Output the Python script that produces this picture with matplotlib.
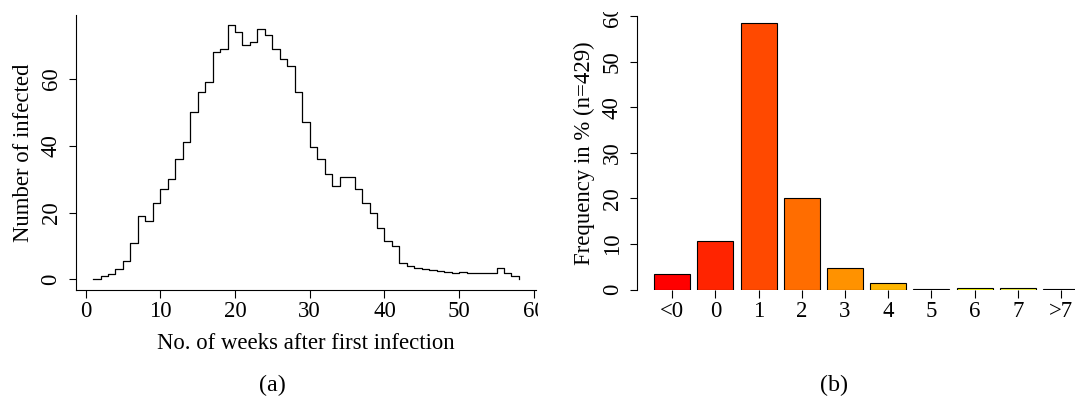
import matplotlib
matplotlib.use("Agg")
import matplotlib.pyplot as plt
from matplotlib.transforms import Bbox, TransformedBbox

plt.rcParams['font.family'] = ['Liberation Serif', 'DejaVu Serif']

# ---- datos panel (a): infectados por semana ----
semanas = list(range(1, 59))
infectados = [0, 1, 1.5, 3, 5.5, 11, 19, 17.5, 23, 27,
              30, 36, 41, 50, 56, 59, 68, 69, 76, 74,
              70, 71, 75, 73, 69, 66, 64, 56, 47, 39.5,
              36, 31.5, 28, 30.5, 30.5, 27, 23, 20, 15.5, 11.5,
              10, 5, 4, 3.5, 3, 2.8, 2.4, 2.2, 2, 2.3,
              2, 2, 2, 2, 3.3, 2, 1, 0]

# ---- datos panel (b): frecuencia en % ----
categorias = ['<0', '0', '1', '2', '3', '4', '5', '6', '7', '>7']
frecuencias = [3.4, 10.7, 58.5, 20.0, 4.7, 1.4, 0.23, 0.47, 0.47, 0.23]
colores = ['#FF0000', '#FF2400', '#FF4900', '#FF6D00', '#FF9200',
           '#FFB600', '#FFDB00', '#FFFF00', '#FFFF40', '#FFFFBF']

W, H = 1075, 396
FS = 16.4
fig = plt.figure(figsize=(W / 100, H / 100), dpi=100)


def caja(x0, y0, x1, y1):
    # rectangulo en pixeles (origen arriba-izquierda) -> fraccion de figura
    return [x0 / W, (H - y1) / H, (x1 - x0) / W, (y1 - y0) / H]


# ========================= panel (a) =========================
ax1 = fig.add_axes(caja(76, 15.3, 536, 289.5))
ax1.step(semanas, infectados, where='post', color='black', lw=0.9)
ax1.set_xlim(-1.28, 60.28)
ax1.set_ylim(-3.04, 79.04)
ax1.spines['top'].set_visible(False)
ax1.spines['right'].set_visible(False)
ax1.set_xticks(range(0, 61, 10))
ax1.set_yticks(range(0, 61, 20))
ax1.tick_params(axis='both', length=5.4, width=0.8, labelsize=FS)
ax1.tick_params(axis='x', pad=3)
ax1.tick_params(axis='y', pad=5)
for lbl in ax1.get_yticklabels():
    lbl.set_rotation(90)
    lbl.set_va('center')
ax1.set_xlabel('No. of weeks after first infection', fontsize=FS, labelpad=8)
ax1.set_ylabel('Number of infected', fontsize=FS, labelpad=5)

# la imagen original estaba recortada a la derecha del panel (a)
recorte_a = TransformedBbox(Bbox.from_extents(0, 0, 538 / W, 1), fig.transFigure)
for lbl in ax1.get_xticklabels():
    lbl.set_clip_box(recorte_a)
    lbl.set_clip_on(True)

# ========================= panel (b) =========================
ax2 = fig.add_axes(caja(637.3, 16, 1096, 289.7))
pos = [0.7 + 1.2 * i for i in range(len(categorias))]
ax2.bar(pos, frecuencias, width=1.0, color=colores, edgecolor='black', lw=0.8)
ax2.set_xlim(-0.272, 12.472)
ax2.set_ylim(0, 60)
for s in ['top', 'right', 'bottom']:
    ax2.spines[s].set_visible(False)
ax2.set_xticks(pos)
ax2.set_xticklabels(categorias)
ax2.set_yticks(range(0, 61, 10))
ax2.tick_params(axis='both', length=5.4, width=0.8, labelsize=FS)
ax2.tick_params(axis='x', pad=3)
ax2.tick_params(axis='y', pad=5)
for lbl in ax2.get_yticklabels():
    lbl.set_rotation(90)
    lbl.set_va('center')
ax2.set_ylabel('Frequency in % (n=429)', fontsize=FS, labelpad=5)

recorte_b = TransformedBbox(Bbox.from_extents(0, 0, 1, (H - 12) / H), fig.transFigure)
for lbl in ax2.get_yticklabels():
    lbl.set_clip_box(recorte_b)
    lbl.set_clip_on(True)

fig.text(272 / W, 1 - 385 / H, '(a)', ha='center', va='center', fontsize=FS + 1)
fig.text(834 / W, 1 - 385 / H, '(b)', ha='center', va='center', fontsize=FS + 1)

fig.savefig('out.png', dpi=100)
